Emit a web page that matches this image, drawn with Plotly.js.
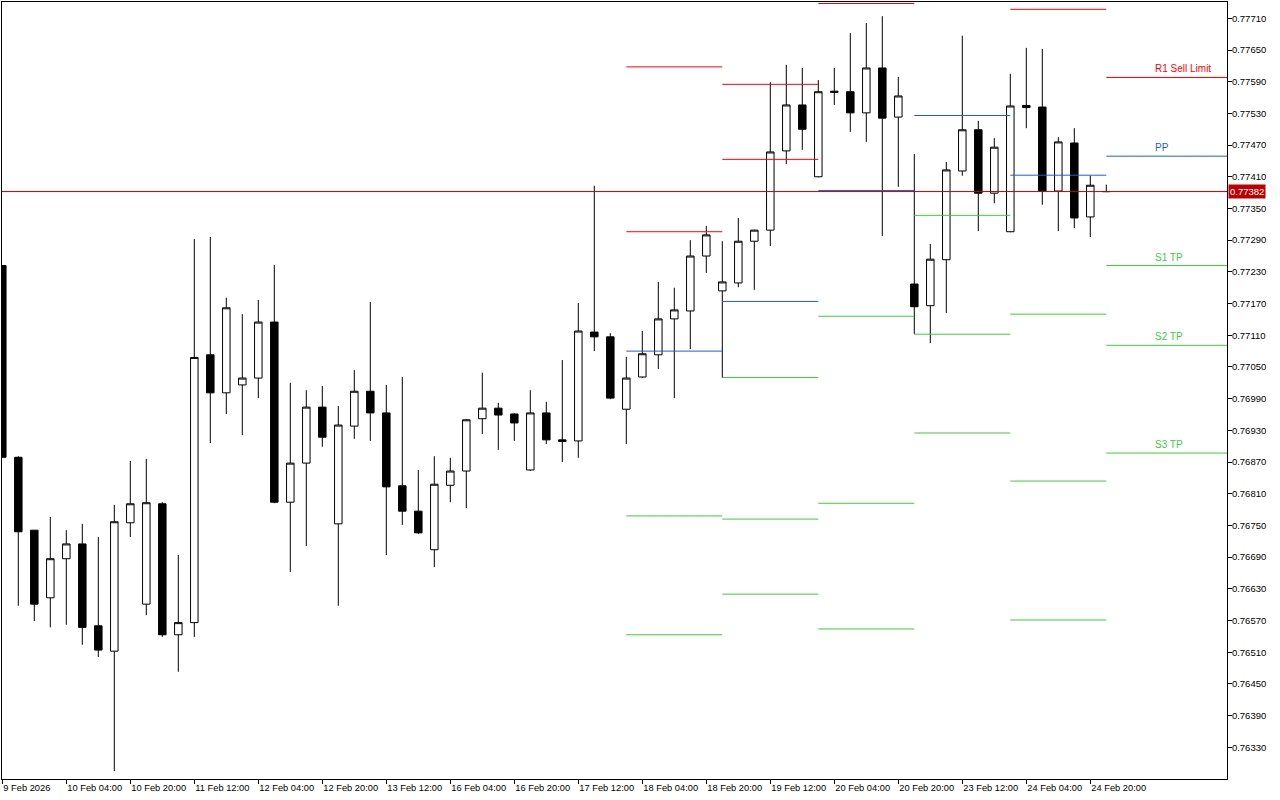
<!DOCTYPE html>
<html>
<head>
<meta charset="utf-8">
<script src="https://cdn.plot.ly/plotly-3.0.1.min.js"></script>
<style>
html,body{margin:0;padding:0;background:#fff;}
#chart{width:1280px;height:800px;}
</style>
</head>
<body>
<div id="chart"></div>
<script>
// H4 bars, index 0 = first visible bar (9 Feb 2026)
const open = [0.77242,0.76879,0.76741,0.76613,0.76687,0.76715,0.76560,0.76512,0.76755,0.76601,
0.76791,0.76543,0.76566,0.77073,0.77001,0.77016,0.77029,0.77135,0.76794,0.76868,
0.76974,0.76753,0.76938,0.77004,0.76963,0.76825,0.76777,0.76704,0.76826,0.76853,
0.76952,0.76972,0.76961,0.76855,0.76963,0.76912,0.76910,0.77116,0.77107,0.76970,
0.77031,0.77073,0.77141,0.77156,0.77260,0.77194,0.77209,0.77288,0.77309,0.77459,
0.77546,0.77410,0.77572,0.77571,0.77531,0.77616,0.77523,0.77207,0.77166,0.77253,
0.77421,0.77499,0.77379,0.77306,0.77545,0.77542,0.77383,0.77474,0.77334,0.77382];

const high = [0.77242,0.76881,0.76741,0.76766,0.76741,0.76753,0.76728,0.76789,0.76872,0.76876,
0.76794,0.76694,0.77292,0.77296,0.77181,0.77150,0.77177,0.77243,0.77020,0.77006,
0.77014,0.76976,0.77044,0.77173,0.77016,0.77031,0.76855,0.76881,0.76878,0.76951,
0.77039,0.76982,0.76962,0.77006,0.76984,0.77063,0.77171,0.77393,0.77114,0.77069,
0.77118,0.77211,0.77200,0.77290,0.77317,0.77288,0.77332,0.77310,0.77589,0.77622,
0.77616,0.77593,0.77616,0.77682,0.77701,0.77714,0.77599,0.77453,0.77283,0.77438,
0.77677,0.77516,0.77483,0.77605,0.77654,0.77652,0.77485,0.77502,0.77412,0.77395];

const low = [0.76879,0.76598,0.76569,0.76557,0.76562,0.76524,0.76501,0.76285,0.76728,0.76580,
0.76539,0.76473,0.76539,0.76906,0.76961,0.76921,0.76991,0.76792,0.76662,0.76711,
0.76899,0.76598,0.76914,0.76910,0.76694,0.76751,0.76734,0.76671,0.76794,0.76783,
0.76923,0.76893,0.76910,0.76853,0.76904,0.76870,0.76878,0.77080,0.76989,0.76904,
0.77029,0.77046,0.76991,0.77084,0.77228,0.77029,0.77201,0.77196,0.77279,0.77434,
0.77461,0.77409,0.77546,0.77495,0.77476,0.77298,0.77391,0.77112,0.77095,0.77152,
0.77412,0.77307,0.77360,0.77305,0.77502,0.77357,0.77307,0.77313,0.77296,0.77381];

const close = [0.76879,0.76738,0.76601,0.76687,0.76715,0.76557,0.76514,0.76757,0.76791,0.76793,
0.76543,0.76566,0.77068,0.77001,0.77162,0.77029,0.77135,0.76794,0.76868,0.76974,
0.76917,0.76940,0.77004,0.76963,0.76823,0.76777,0.76736,0.76828,0.76853,0.76950,
0.76972,0.76959,0.76944,0.76963,0.76912,0.76909,0.77118,0.77107,0.76991,0.77029,
0.77075,0.77141,0.77158,0.77260,0.77300,0.77211,0.77288,0.77309,0.77457,0.77546,
0.77500,0.77571,0.77570,0.77531,0.77616,0.77521,0.77563,0.77164,0.77254,0.77423,
0.77499,0.77379,0.77466,0.77544,0.77541,0.77383,0.77476,0.77332,0.77394,0.77382];

// time axis labels (bar index of each label)
const tickIdx = [0,4,8,12,16,20,24,28,32,36,40,44,48,52,56,60,64,68];
const tickLabels = ['9 Feb 2026','10 Feb 04:00','10 Feb 20:00','11 Feb 12:00','12 Feb 04:00',
 '12 Feb 20:00','13 Feb 12:00','16 Feb 04:00','16 Feb 20:00','17 Feb 12:00','18 Feb 04:00',
 '18 Feb 20:00','19 Feb 12:00','20 Feb 04:00','20 Feb 20:00','23 Feb 12:00','24 Feb 04:00','24 Feb 20:00'];

// price axis ticks
const priceTicks = [0.76330,0.76390,0.76450,0.76510,0.76570,0.76630,0.76690,0.76750,0.76810,
 0.76870,0.76930,0.76990,0.77050,0.77110,0.77170,0.77230,0.77290,0.77350,0.77410,0.77470,
 0.77530,0.77590,0.77650,0.77710];

// daily pivot levels: each day spans from dayStart to dayEnd bar index
const dayStart = [39,45,51,57,63,69];
const dayEnd   = [45,51,57,63,69,78];
const r2 = [0.77618,0.77585,null,null,null,null];
const r1 = [0.77306,0.77443,0.77738,null,0.77727,0.77598];
const pp = [0.77080,0.77174,0.77384,0.77526,0.77413,0.77449];
const s1 = [0.76768,0.77030,0.77146,0.77337,0.77150,0.77242];
const s2 = [0.76543,0.76762,0.76792,0.77112,0.76834,0.77091];
const s3 = [null,0.76620,0.76554,0.76925,0.76571,0.76887];

// labels on the current day's levels
const curLabels = [
  {name:'R1 Sell Limit', level: r1[5], color:'#FF0000'},
  {name:'PP', level: pp[5], color:'#1F5FD6'},
  {name:'S1 TP', level: s1[5], color:'#3DCB3D'},
  {name:'S2 TP', level: s2[5], color:'#3DCB3D'},
  {name:'S3 TP', level: s3[5], color:'#3DCB3D'}
];
const labelBar = 71.9;

const bid = 0.77382;

const RED = '#FF0000', BLUE = '#1F5FD6', GREEN = '#3DCB3D', BIDCOL = '#C00000';
const FONT = 'Liberation Sans, Arial, sans-serif';

const xs = open.map((_, i) => i);

function segTrace(levels, color) {
  const x = [], y = [];
  levels.forEach((v, d) => {
    if (v === null) return;
    x.push(dayStart[d], dayEnd[d], null);
    y.push(v, v, null);
  });
  return {type:'scatter', mode:'lines', x, y, line:{color, width:1}, hoverinfo:'skip', showlegend:false};
}

const traces = [
  {
    type:'candlestick', x: xs, open, high, low, close,
    increasing:{line:{color:'#000000', width:1}, fillcolor:'#FFFFFF'},
    decreasing:{line:{color:'#000000', width:1}, fillcolor:'#000000'},
    whiskerwidth:0, showlegend:false, hoverinfo:'skip'
  },
  segTrace(r2, RED), segTrace(r1, RED), segTrace(pp, BLUE),
  segTrace(s1, GREEN), segTrace(s2, GREEN), segTrace(s3, GREEN)
];

const annotations = curLabels.map(l => ({
  x: labelBar, y: l.level, xref:'x', yref:'y', text: l.name, showarrow:false,
  xanchor:'left', yanchor:'bottom', yshift:1,
  font:{family:FONT, size:10, color:l.color}
}));
annotations.push({
  x:1, y:bid, xref:'paper', yref:'y', text: bid.toFixed(5), showarrow:false,
  xanchor:'left', yanchor:'middle', xshift:1, bgcolor:BIDCOL, borderpad:1,
  font:{family:FONT, size:9.5, color:'#FFFFFF'}
});

const layout = {
  width:1280, height:800,
  margin:{l:2, r:53, t:2, b:21, pad:0},
  paper_bgcolor:'#FFFFFF', plot_bgcolor:'#FFFFFF',
  showlegend:false,
  boxgap:0.33,
  xaxis:{
    type:'linear', range:[-0.01875, 76.544],
    tickmode:'array', tickvals: tickIdx, ticktext: tickLabels,
    ticks:'outside', ticklen:4, tickcolor:'#000', tickwidth:1,
    ticklabelposition:'outside right', tickangle:0, automargin:false,
    showline:true, linecolor:'#000', linewidth:1, mirror:true,
    showgrid:false, zeroline:false, rangeslider:{visible:false},
    tickfont:{family:FONT, size:9.3, color:'#000'}, fixedrange:true
  },
  yaxis:{
    side:'right', range:[0.7627, 0.7774086],
    tickmode:'array', tickvals: priceTicks, ticktext: priceTicks.map(v => v.toFixed(5)),
    ticks:'outside', ticklen:4, tickcolor:'#000', tickwidth:1, ticklabelstandoff:-2,
    showline:true, linecolor:'#000', linewidth:1, mirror:true,
    showgrid:false, zeroline:false, automargin:false,
    tickfont:{family:FONT, size:9.5, color:'#000'}, fixedrange:true
  },
  shapes:[{
    type:'line', xref:'paper', x0:0, x1:1, yref:'y', y0:bid, y1:bid,
    line:{color:BIDCOL, width:1}
  }],
  annotations
};

Plotly.newPlot('chart', traces, layout, {displayModeBar:false, staticPlot:true});
</script>
</body>
</html>
